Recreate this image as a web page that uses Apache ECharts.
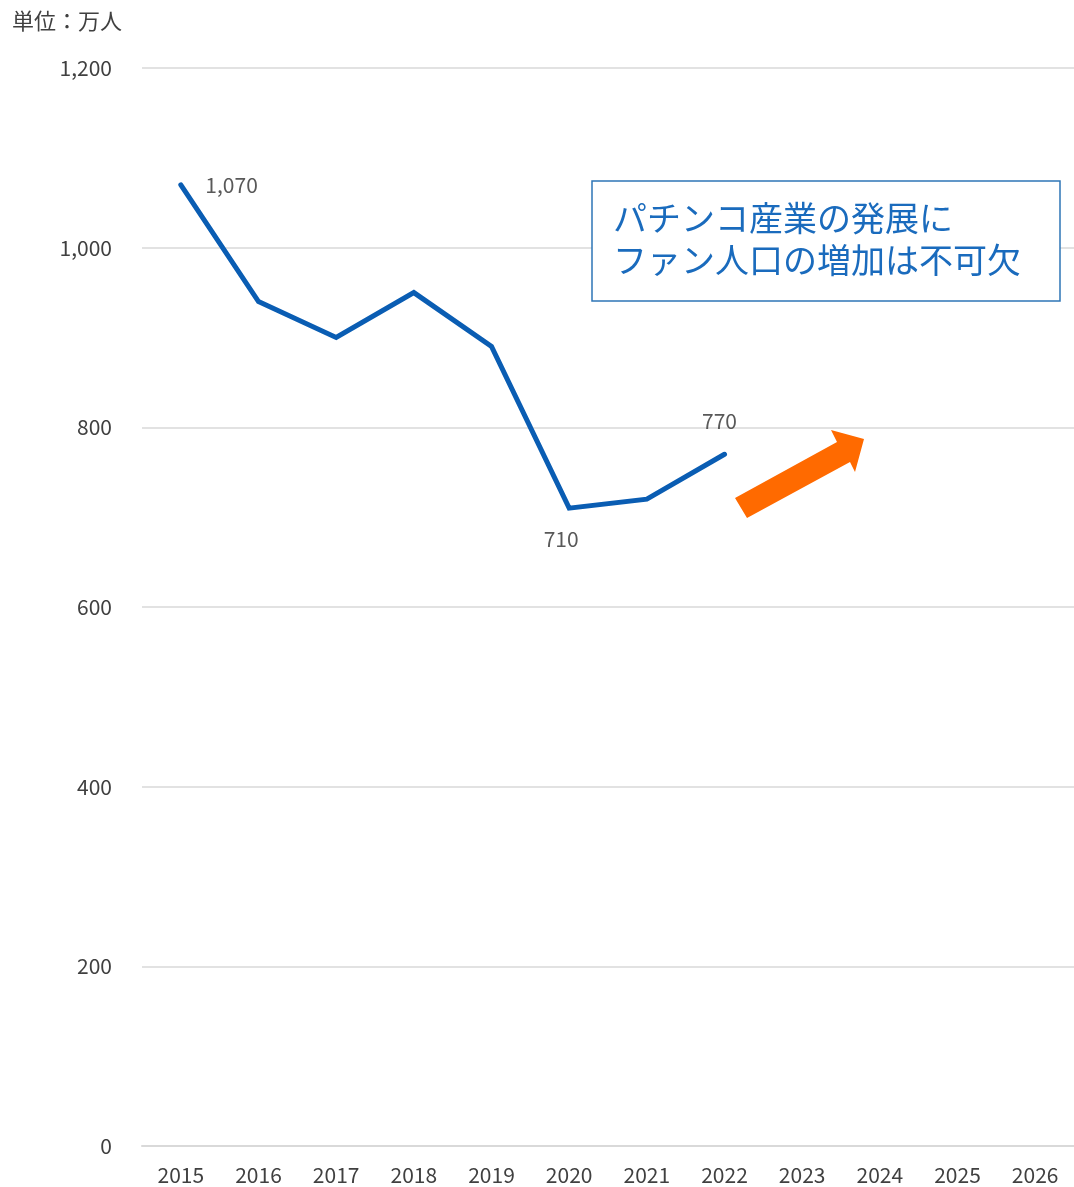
<!DOCTYPE html>
<html><head><meta charset="utf-8">
<script src="https://cdn.jsdelivr.net/npm/echarts@6/dist/echarts.min.js"></script>
<style>html,body{margin:0;padding:0;background:#fff}#c{width:1074px;height:1187px}</style>
</head><body><div id="c"></div>
<script>
const years = ['2015','2016','2017','2018','2019','2020','2021','2022','2023','2024','2025','2026'];
const fans = [1070, 940, 900, 950, 890, 710, 720, 770];
const labeledYears = { '2015': 'right', '2020': 'bottom', '2022': 'top' };
const unitText = '単位：万人';
const boxText = 'パチンコ産業の発展に\nファン人口の増加は不可欠';
const FONT = '"Noto Sans CJK JP", "Noto Sans", sans-serif';
const fmt = v => String(v).replace(/\B(?=(\d{3})+(?!\d))/g, ',');

const seriesData = fans.map((v, i) => {
  const pos = labeledYears[years[i]];
  if (!pos) return v;
  const lab = { show: true, position: pos, color: '#595959', fontSize: 21, fontFamily: FONT, formatter: p => fmt(p.value) };
  if (pos === 'right') { lab.distance = 24; }
  if (pos === 'bottom') { lab.distance = 20; lab.offset = [-8, 0]; }
  if (pos === 'top') { lab.distance = 22; lab.offset = [-5, 0]; }
  return { value: v, label: lab };
});

const chart = echarts.init(document.getElementById('c'));
chart.setOption({
  animation: false,
  textStyle: { fontFamily: FONT },
  grid: { left: 142, right: 0, top: 68, bottom: 41, containLabel: false },
  xAxis: {
    type: 'category', data: years, boundaryGap: true,
    axisLine: { show: true, lineStyle: { color: '#d9d9d9', width: 2 } },
    axisTick: { show: false },
    axisLabel: { color: '#404040', fontSize: 21, margin: 19, fontFamily: FONT }
  },
  yAxis: {
    type: 'value', min: 0, max: 1200, interval: 200,
    axisLine: { show: false }, axisTick: { show: false },
    axisLabel: { color: '#404040', fontSize: 21, margin: 30, fontFamily: FONT, formatter: v => fmt(v) },
    splitLine: { lineStyle: { color: '#d9d9d9', width: 1.5 } }
  },
  series: [{
    type: 'line', data: seriesData, symbol: 'circle', symbolSize: 1, showSymbol: true,
    itemStyle: { color: 'rgba(0,0,0,0)' },
    lineStyle: { color: '#0a5db3', width: 5, cap: 'round', join: 'miter' },
    label: { show: false }
  }],
  graphic: [
    { type: 'text', left: 12, top: 10, style: { text: unitText, fill: '#404040', fontSize: 22, fontFamily: FONT } },
    { type: 'rect', shape: { x: 592, y: 181, width: 468, height: 120 }, style: { fill: '#fff', stroke: '#2e75b6', lineWidth: 1.5 }, z: 10 },
    { type: 'text', x: 613, y: 197, style: { text: boxText, fill: '#1a6bbd', fontSize: 34, lineHeight: 42, fontFamily: FONT }, z: 11 },
    { type: 'polygon', shape: { points: [[735,498],[837,442],[831,430],[864,439],[855,472],[850,462],[747,518]] }, style: { fill: '#ff6a00' }, z: 10 }
  ]
});
</script></body></html>
